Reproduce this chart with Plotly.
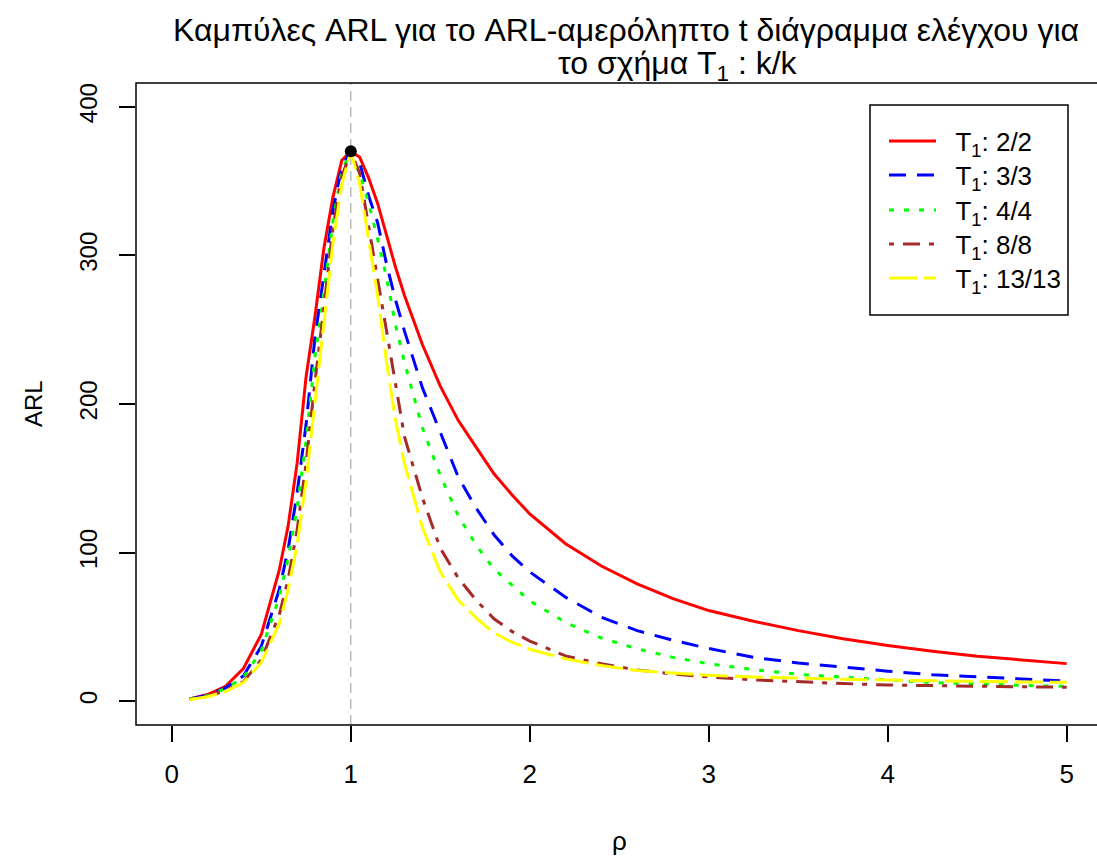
import plotly.graph_objects as go

# ---------------- data ----------------
rho = [0.1, 0.2, 0.3, 0.4, 0.5, 0.6, 0.65, 0.7, 0.75, 0.8, 0.85, 0.9, 0.95, 1.0,
       1.05, 1.1, 1.15, 1.2, 1.25, 1.3, 1.4, 1.5, 1.6, 1.7, 1.8, 1.9, 2.0,
       2.2, 2.4, 2.6, 2.8, 3.0, 3.25, 3.5, 3.75, 4.0, 4.25, 4.5, 4.75, 5.0]

arl_2_2 = [1.5, 4.5, 10, 22, 45, 88, 118, 160, 218, 259, 305, 339, 364, 370,
           366, 352, 335, 314, 292, 273, 240, 212, 189, 171, 153, 139, 126,
           106, 91, 79, 69, 61, 53.8, 47.5, 42, 37.5, 33.6, 30.3, 27.6, 25.3]
arl_3_3 = [1.5, 4, 9, 17, 37, 75, 102, 140, 186, 245, 287, 330, 360, 370,
           362, 340, 322, 294, 270, 249, 211, 181, 151, 130, 112, 98, 87,
           70, 56.5, 47.5, 41, 35.5, 29.5, 25.7, 22.8, 20.2, 17.8, 16.2, 15, 13.6]
arl_4_4 = [1.5, 3.8, 8.5, 16, 34, 70, 96, 130, 175, 232, 275, 323, 357, 370,
           355, 335, 311, 285, 253, 228, 184, 152, 125, 105, 89, 78, 67.5,
           53, 42.5, 35.3, 29.5, 25.2, 21.3, 18.1, 16.2, 14, 12.5, 11.8, 10.6, 10]
arl_8_8 = [1.4, 3.3, 7, 13, 28, 58, 82, 115, 160, 215, 265, 318, 353, 370,
           355, 318, 284, 249, 212, 178, 137, 103, 83, 68, 55.5, 47, 40.5,
           30.5, 25.2, 21, 18.3, 16.3, 14.4, 13, 11.9, 10.9, 10.4, 10, 9.7, 9.4]
arl_13_13 = [1.2, 3, 6.5, 12.5, 26, 52, 75, 105, 148, 200, 252, 308, 348, 370,
             348, 311, 273, 228, 189, 160, 117, 87, 68, 56, 46, 39.7, 35,
             28.5, 24, 20.6, 18.8, 17.4, 16.3, 15.4, 14.8, 14.2, 13.7, 13.1, 12.9, 12.8]

series_names = ["2/2", "3/3", "4/4", "8/8", "13/13"]
series_values = [arl_2_2, arl_3_3, arl_4_4, arl_8_8, arl_13_13]
series_colors = ["#FF0000", "#0000FF", "#00FF00", "#A52A2A", "#FFFF00"]
series_dash = ["solid", "17px,11px", "5px,10px", "5px,9px,17px,9px", "28px,7px"]

peak_rho = [1.0]
peak_arl = [370]

x_ticks = [0, 1, 2, 3, 4, 5]
y_ticks = [0, 100, 200, 300, 400]

FONT = "Liberation Sans, Arial, Helvetica, sans-serif"
NBSP = "\u00a0"

# legend row centres (pixels from top)
legend_rows = [141, 175, 210, 244, 278]
legend_ids = ["legend", "legend2", "legend3", "legend4", "legend5"]

# ---------------- figure ----------------
fig = go.Figure()

for name, vals, col, dash, lid in zip(series_names, series_values, series_colors,
                                      series_dash, legend_ids):
    fig.add_trace(go.Scatter(
        x=rho, y=vals, mode="lines",
        name=NBSP * 2 + "T<sub>1</sub>: " + name,
        line=dict(color=col, width=3, dash=dash),
        legend=lid,
    ))

fig.add_trace(go.Scatter(
    x=peak_rho, y=peak_arl, mode="markers",
    marker=dict(color="black", size=12), showlegend=False,
))

x_lo, x_hi = -0.2, 5.169
x_box_hi = 5.2

legend_layout = {}
for lid, row in zip(legend_ids, legend_rows):
    legend_layout[lid] = dict(
        x=(884 - 136) / 961, xanchor="left",
        y=(725 - row) / 642, yanchor="middle",
        bgcolor="rgba(0,0,0,0)", borderwidth=0,
        font=dict(size=26, family=FONT),
        itemwidth=47,
    )

fig.update_layout(
    width=1097, height=858,
    margin=dict(l=136, r=0, t=83, b=133),
    paper_bgcolor="white", plot_bgcolor="white",
    font=dict(family=FONT, color="black", size=26),
    showlegend=True,
    xaxis=dict(
        range=[x_lo, x_hi], tickvals=x_ticks, ticktext=[str(v) for v in x_ticks],
        ticks="outside", ticklen=16, tickwidth=1.5, tickcolor="black",
        showgrid=False, zeroline=False, showline=False,
        tickfont=dict(size=26, family=FONT), ticklabelstandoff=10,
    ),
    yaxis=dict(
        range=[-16, 416], tickvals=y_ticks, ticktext=[str(v) for v in y_ticks],
        ticks="outside", ticklen=16, tickwidth=1.5, tickcolor="black",
        showgrid=False, zeroline=False, showline=False, tickangle=-90,
        tickfont=dict(size=24, family=FONT), ticklabelstandoff=12,
    ),
    **legend_layout,
)

# plot frame (extends slightly past the right edge, as in the reference)
fig.add_shape(type="rect", xref="paper", yref="paper",
              x0=0, x1=(x_box_hi - x_lo) / (x_hi - x_lo), y0=0, y1=1,
              line=dict(color="black", width=1.5), layer="above")
# legend frame
fig.add_shape(type="rect", xref="paper", yref="paper",
              x0=(870 - 136) / 961, x1=(1068 - 136) / 961,
              y0=(725 - 315) / 642, y1=(725 - 105) / 642,
              line=dict(color="black", width=1.5), layer="above")
# vertical reference line at rho = 1
fig.add_shape(type="line", xref="x", yref="paper", x0=1, x1=1, y0=0, y1=1,
              line=dict(color="#BEBEBE", width=1.5, dash="10px,6px"), layer="below")

# titles
fig.add_annotation(text="Καμπύλες ARL για το ARL-αμερόληπτο t διάγραμμα ελέγχου για",
                   xref="paper", yref="paper", x=(626 - 136) / 961, y=(725 - 30) / 642,
                   xanchor="center", yanchor="middle", showarrow=False,
                   font=dict(size=32, family=FONT))
fig.add_annotation(text="το σχήμα T<sub>1</sub> : k/k",
                   xref="paper", yref="paper", x=(678 - 136) / 961, y=(725 - 65) / 642,
                   xanchor="center", yanchor="middle", showarrow=False,
                   font=dict(size=32, family=FONT))
fig.add_annotation(text="ρ", xref="x", yref="paper", x=2.5, y=(725 - 841) / 642,
                   xanchor="center", yanchor="middle", showarrow=False,
                   font=dict(size=26, family=FONT))
fig.add_annotation(text="ARL", xref="paper", yref="paper", x=(33 - 136) / 961, y=0.5,
                   xanchor="center", yanchor="middle", showarrow=False, textangle=-90,
                   font=dict(size=24, family=FONT))

fig.write_html("out.html")
